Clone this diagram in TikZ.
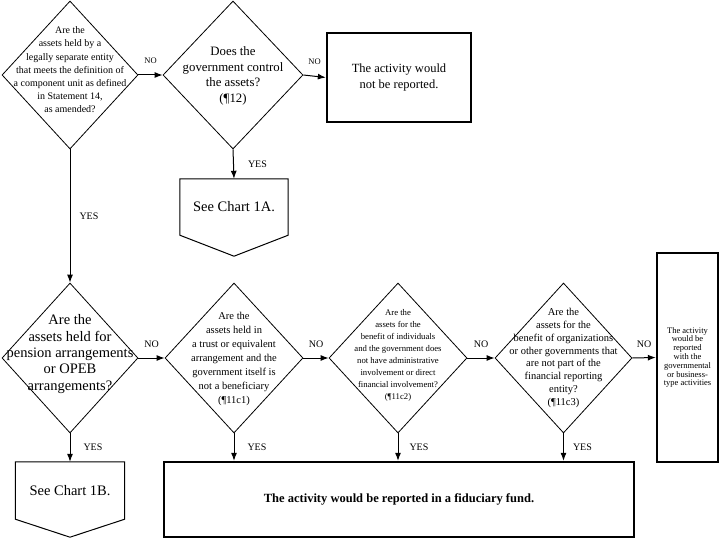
\documentclass[tikz,border=0pt]{standalone}
\usepackage{fontspec}
\setmainfont{Liberation Serif}
\usetikzlibrary{shapes.geometric,arrows.meta,calc}

\begin{document}
\begin{tikzpicture}[x=1pt,y=-1pt,
    decision/.style={diamond,draw,line width=0.8pt,inner sep=0pt,minimum height=150pt},
    qtext/.style={align=center,inner sep=0pt},
    endbox/.style={rectangle,draw,line width=2.4pt,align=center,inner sep=0pt},
    chartbox/.style={rectangle,inner sep=0pt,font=\fontsize{14.5}{16}\selectfont},
    link/.style={-{Latex[length=8pt,width=6pt]},line width=1pt},
    ans/.style={inner sep=0pt,font=\fontsize{10}{12}\selectfont}]
  \useasboundingbox (0,0) rectangle (720,540);
  % top row: component unit / control questions
  \node[decision,minimum width=136pt,minimum height=148pt] (d1) at (70,75) {};
  \node[qtext,font=\fontsize{10}{13.2}\selectfont] (d1t) at (70,70)
    {Are the\\assets held by a\\legally separate entity\\that meets the definition of\\a component unit as defined\\in Statement 14,\\as amended?};
  \node[decision,minimum width=140pt,minimum height=148pt] (d2) at (233,75) {};
  \node[qtext,font=\fontsize{12.8}{15.7}\selectfont] (d2t) at (233,76)
    {Does the\\government control\\the assets?\\(¶12)};
  \node[endbox,minimum width=144pt,minimum height=89pt,font=\fontsize{12.5}{16.5}\selectfont] (r1) at (399,77.5)
    {The activity would\\not be reported.};
  \node[chartbox,minimum width=108pt,minimum height=56pt] (c1a) at (234,207) {See Chart 1A.};
  \draw[line width=1pt] (c1a.north west) -- (c1a.north east) -- (c1a.south east)
    -- ($(c1a.south)+(0,21)$) -- (c1a.south west) -- cycle;
  % second row: fiduciary questions
  \node[decision,minimum width=136pt] (d3) at (70,358) {};
  \node[qtext,font=\fontsize{14.5}{16.3}\selectfont] (d3t) at (70,354)
    {Are the\\assets held for\\pension arrangements\\or OPEB\\arrangements?};
  \node[decision,minimum width=138pt] (d4) at (234,358) {};
  \node[qtext,font=\fontsize{10.5}{14}\selectfont] (d4t) at (234,359)
    {Are the\\assets held in\\a trust or equivalent\\arrangement and the\\government itself is\\not a beneficiary\\(¶11c1)};
  \node[decision,minimum width=138pt] (d5) at (398,358) {};
  \node[qtext,font=\fontsize{8.7}{12}\selectfont] (d5t) at (398,355)
    {Are the\\assets for the\\benefit of individuals\\and the government does\\not have administrative\\involvement or direct\\financial involvement?\\(¶11c2)};
  \node[decision,minimum width=137pt] (d6) at (563.5,358) {};
  \node[qtext,font=\fontsize{10.5}{12.8}\selectfont] (d6t) at (563.5,358)
    {Are the\\assets for the\\benefit of organizations\\or other governments that\\are not part of the\\financial reporting\\entity?\\(¶11c3)};
  \node[endbox,minimum width=61pt,minimum height=209pt,font=\fontsize{8.5}{8.8}\selectfont] (r2) at (687.5,357.5)
    {The activity\\would be\\reported\\with the\\governmental\\or business-\\type activities};
  \node[chartbox,minimum width=109pt,minimum height=57pt] (c1b) at (70,490.5) {See Chart 1B.};
  \draw[line width=1pt] (c1b.north west) -- (c1b.north east) -- (c1b.south east)
    -- ($(c1b.south)+(0,18)$) -- (c1b.south west) -- cycle;
  \node[endbox,minimum width=470pt,minimum height=75pt,font=\bfseries\fontsize{12.5}{15}\selectfont] (fid) at (399,499.5)
    {The activity would be reported in a fiduciary fund.};
  % connectors
  \draw[link] (d1.east) -- node[ans,above=11pt,font=\fontsize{8.5}{10}\selectfont] {NO} (d2.west);
  \draw[link] (d2.east) -- node[ans,above=11pt,font=\fontsize{8.5}{10}\selectfont] {NO} (r1.west);
  \draw[link] (d2.south) -- node[ans,right=14pt] {YES} (c1a.north);
  \draw[link] (d1.south) -- node[ans,right=9pt] {YES} (d3.north);
  \draw[link] (d3.east) -- node[ans,above=10pt] {NO} (d4.west);
  \draw[link] (d4.east) -- node[ans,above=10pt] {NO} (d5.west);
  \draw[link] (d5.east) -- node[ans,above=10pt] {NO} (d6.west);
  \draw[link] (d6.east) -- node[ans,above=10pt] {NO} (r2.west);
  \draw[link] (d3.south) -- node[ans,right=13pt] {YES} (c1b.north);
  \draw[link] (d4.south) -- node[ans,right=13pt] {YES} (d4.south |- fid.north);
  \draw[link] (d5.south) -- node[ans,right=11pt] {YES} (d5.south |- fid.north);
  \draw[link] (d6.south) -- node[ans,right=9pt] {YES} (d6.south |- fid.north);
\end{tikzpicture}
\end{document}
